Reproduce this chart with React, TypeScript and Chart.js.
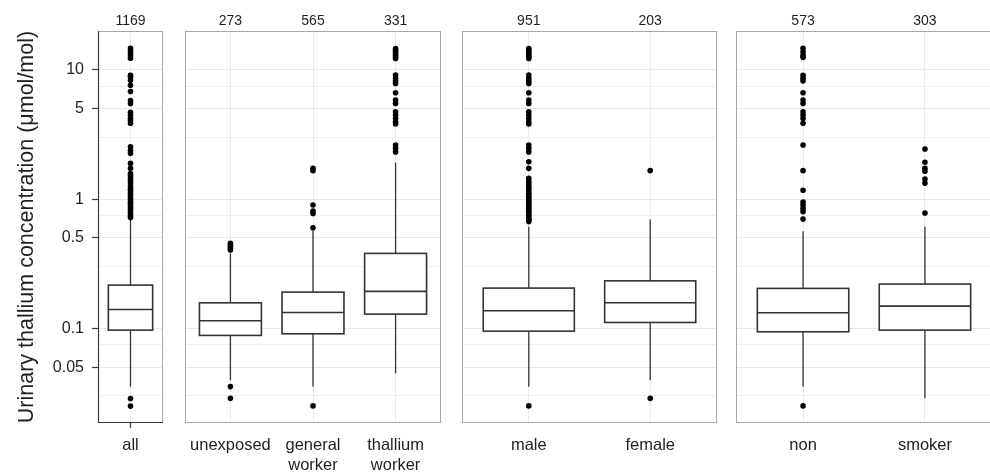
import React, { useEffect, useRef } from "react";
import { Chart, registerables } from "chart.js";

Chart.register(...registerables);

// ---------- data ----------
const categories = ["all", "unexposed", "general\nworker", "thallium\nworker", "male", "female", "non", "smoker"];
const panelOf = [0, 1, 1, 1, 2, 2, 3, 3];
const counts = [1169, 273, 565, 331, 951, 203, 573, 303];
const whiskerLow = [0.0353, 0.0397, 0.0353, 0.0448, 0.0353, 0.0397, 0.0353, 0.0287];
const q1 = [0.0968, 0.0881, 0.0907, 0.1288, 0.0951, 0.111, 0.094, 0.0968];
const median = [0.14, 0.1143, 0.1327, 0.193, 0.1367, 0.1575, 0.1318, 0.1486];
const q3 = [0.216, 0.1575, 0.1906, 0.38, 0.2048, 0.233, 0.2037, 0.22];
const whiskerHigh = [0.71, 0.38, 0.57, 1.92, 0.61, 0.696, 0.565, 0.61];

const outliersAll = [0.025, 0.0286, 0.72, 0.74, 0.77, 0.8, 0.83, 0.86, 0.9, 0.93, 0.96, 1.0, 1.04, 1.08, 1.12, 1.17, 1.21, 1.27, 1.33, 1.39, 1.45, 1.52, 1.58, 1.73, 1.89, 2.26, 2.39, 2.54, 3.86, 4.05, 4.2, 4.45, 4.7, 5.5, 5.8, 6.8, 7.6, 8.3, 8.8, 9.1, 12.3, 12.8, 13.4, 14.0, 14.7];
const outliersUnexposed = [0.0287, 0.0354, 0.403, 0.415, 0.427, 0.44, 0.454];
const outliersGeneral = [0.0251, 0.6, 0.775, 0.81, 0.9, 1.66, 1.73];
const outliersThallium = [2.32, 2.47, 2.62, 3.81, 3.96, 4.21, 4.47, 4.74, 5.5, 5.84, 6.65, 7.86, 8.2, 8.59, 9.12, 12.27, 12.6, 13.0, 13.4, 13.8, 14.2, 14.66];
const outliersMale = [0.0251, 0.67, 0.688, 0.7, 0.73, 0.75, 0.775, 0.8, 0.822, 0.85, 0.872, 0.9, 0.926, 0.95, 0.98, 1.01, 1.04, 1.08, 1.11, 1.16, 1.21, 1.26, 1.32, 1.38, 1.45, 1.73, 1.945, 2.32, 2.47, 2.62, 3.81, 3.96, 4.21, 4.47, 4.74, 5.5, 5.84, 6.65, 7.86, 8.2, 8.59, 9.12, 12.27, 12.6, 13.0, 13.4, 13.8, 14.2, 14.66];
const outliersFemale = [0.0287, 1.66];
const outliersNon = [0.0251, 0.7, 0.8, 0.85, 0.9, 0.95, 1.17, 1.66, 2.62, 3.86, 4.21, 4.47, 4.74, 5.5, 5.84, 6.65, 8.2, 8.6, 9.1, 12.5, 13.0, 13.8, 14.7];
const outliersSmoker = [0.78, 1.33, 1.43, 1.64, 1.73, 1.93, 2.44];
const outliers = [outliersAll, outliersUnexposed, outliersGeneral, outliersThallium, outliersMale, outliersFemale, outliersNon, outliersSmoker];

const yMajorTicks = [0.05, 0.1, 0.5, 1, 5, 10];
const yMinorTicks = [0.03, 0.075, 0.3, 0.75, 3, 7.5];
const yMin = 0.0185;
const yMax = 20.0;
const yTitle = "Urinary thallium concentration (\u03BCmol/mol)";

// ---------- styling / layout ----------
const FONT = "'Liberation Sans', Arial, Helvetica, sans-serif";
const TEXT = "#1f1f1f";
const BOX_LINE = "#333333";
const GRID = "#EBEBEB";
const PANEL_BORDER = "#A8A8A8";
const AXIS_DARK = "#3a3a3a";
const BOX_WIDTH = 0.75;
const X_EXPAND = 0.55;
const HEIGHT = 474;
const TOP_H = 31;
const BOTTOM_H = 51;

const panelRects = [
  { left: 98, right: 163, showY: true },
  { left: 185, right: 441, showY: false },
  { left: 462, right: 717, showY: false },
  { left: 736, right: 992, showY: false },
];

function PanelChart({ index, left, right, showY }: { index: number; left: number; right: number; showY: boolean }) {
  const ref = useRef<HTMLCanvasElement>(null);
  const padL = showY ? 0 : 10;
  const padR = 8;
  const canvasLeft = showY ? 0 : left - padL;
  const width = right - canvasLeft + padR;

  useEffect(() => {
    const idx = categories.map((_, g) => g).filter((g) => panelOf[g] === index);
    const n = idx.length;
    const yTicks = [...yMajorTicks, ...yMinorTicks].sort((a, b) => a - b);
    const isMajor = (v: number) => yMajorTicks.some((m) => Math.abs(m - v) < 1e-9);
    const setXTicks = (s: any) => {
      s.ticks = idx.map((_, i) => ({ value: i }));
    };

    const boxPlugin = {
      id: "boxes",
      beforeDatasetsDraw(chart: any) {
        const ctx = chart.ctx;
        const xs = chart.scales.x;
        const ys = chart.scales.y;
        ctx.save();
        idx.forEach((g, i) => {
          const cx = xs.getPixelForValue(i);
          const hw = xs.getPixelForValue(i + BOX_WIDTH / 2) - cx;
          const yLo = ys.getPixelForValue(whiskerLow[g]);
          const yQ1 = ys.getPixelForValue(q1[g]);
          const yMed = ys.getPixelForValue(median[g]);
          const yQ3 = ys.getPixelForValue(q3[g]);
          const yHi = ys.getPixelForValue(whiskerHigh[g]);
          ctx.strokeStyle = BOX_LINE;
          ctx.lineWidth = 1.3;
          ctx.beginPath();
          ctx.moveTo(cx, yQ3);
          ctx.lineTo(cx, yHi);
          ctx.moveTo(cx, yQ1);
          ctx.lineTo(cx, yLo);
          ctx.stroke();
          ctx.fillStyle = "#ffffff";
          ctx.fillRect(cx - hw, yQ3, 2 * hw, yQ1 - yQ3);
          ctx.lineWidth = 1.6;
          ctx.strokeRect(cx - hw, yQ3, 2 * hw, yQ1 - yQ3);
          ctx.beginPath();
          ctx.moveTo(cx - hw, yMed);
          ctx.lineTo(cx + hw, yMed);
          ctx.stroke();
        });
        ctx.restore();
      },
      afterDraw(chart: any) {
        const ctx = chart.ctx;
        const { left: l, top: t, right: r, bottom: b } = chart.chartArea;
        ctx.save();
        ctx.strokeStyle = PANEL_BORDER;
        ctx.lineWidth = 1;
        ctx.strokeRect(l + 0.5, t + 0.5, r - l - 1, b - t - 1);
        if (showY) {
          ctx.strokeStyle = AXIS_DARK;
          ctx.lineWidth = 1.2;
          ctx.beginPath();
          ctx.moveTo(l + 0.5, t);
          ctx.lineTo(l + 0.5, b - 0.5);
          ctx.lineTo(r, b - 0.5);
          ctx.stroke();
        }
        ctx.restore();
      },
    };

    const datasets = [
      {
        type: "scatter" as const,
        label: "outliers",
        data: idx.flatMap((g, i) => outliers[g].map((v) => ({ x: i, y: v }))),
        pointRadius: 2.8,
        pointHoverRadius: 2.8,
        backgroundColor: "#000000",
        borderWidth: 0,
        xAxisID: "x",
        yAxisID: "y",
      },
    ];

    const chart = new Chart(ref.current as HTMLCanvasElement, {
      type: "scatter",
      data: { datasets },
      plugins: [boxPlugin],
      options: {
        animation: false,
        responsive: false,
        devicePixelRatio: 1,
        layout: { padding: { left: padL, right: padR, top: 0, bottom: 0 } },
        plugins: { legend: { display: false }, tooltip: { enabled: false } },
        scales: {
          x: {
            type: "linear",
            position: "bottom",
            min: -X_EXPAND,
            max: n - 1 + X_EXPAND,
            afterBuildTicks: setXTicks,
            afterFit: (s: any) => {
              s.height = BOTTOM_H;
            },
            border: { display: false },
            grid: {
              color: GRID,
              lineWidth: 1,
              drawTicks: true,
              tickLength: 5,
              tickColor: showY ? AXIS_DARK : "rgba(0,0,0,0)",
              tickWidth: 1.2,
            },
            ticks: {
              autoSkip: false,
              maxRotation: 0,
              padding: 8,
              color: TEXT,
              font: { family: FONT, size: 16.5 },
              callback: (v: any) => {
                const i = Math.round(Number(v));
                const lab = categories[idx[i]];
                if (lab === undefined) return "";
                return lab.includes("\n") ? lab.split("\n") : lab;
              },
            },
          },
          xTop: {
            type: "linear",
            axis: "x",
            position: "top",
            min: -X_EXPAND,
            max: n - 1 + X_EXPAND,
            afterBuildTicks: setXTicks,
            afterFit: (s: any) => {
              s.height = TOP_H;
            },
            border: { display: false },
            grid: { display: false, drawTicks: false },
            ticks: {
              autoSkip: false,
              maxRotation: 0,
              padding: 1,
              color: TEXT,
              font: { family: FONT, size: 14 },
              callback: (v: any) => {
                const i = Math.round(Number(v));
                const c = counts[idx[i]];
                return c === undefined ? "" : String(c);
              },
            },
          },
          y: {
            type: "logarithmic",
            position: "left",
            min: yMin,
            max: yMax,
            afterBuildTicks: (s: any) => {
              s.ticks = yTicks.map((v) => ({ value: v, major: isMajor(v) }));
            },
            afterFit: (s: any) => {
              s.width = showY ? left : 0;
            },
            border: { display: false },
            grid: {
              color: (c: any) => (c.tick && isMajor(c.tick.value) ? "#E8E8E8" : "#EFEFEF"),
              lineWidth: 1,
              drawTicks: showY,
              tickLength: 6,
              tickWidth: 1.2,
              tickColor: (c: any) => (c.tick && isMajor(c.tick.value) ? AXIS_DARK : "rgba(0,0,0,0)"),
            },
            ticks: {
              display: showY,
              autoSkip: false,
              padding: 8,
              color: TEXT,
              font: { family: FONT, size: 16 },
              callback: (v: any) => (isMajor(Number(v)) ? String(Number(v)) : ""),
            },
            title: {
              display: showY,
              text: yTitle,
              color: TEXT,
              font: { family: FONT, size: 21.5 },
              padding: { top: 14, bottom: 0 },
            },
          },
        },
      } as any,
    });
    return () => chart.destroy();
  }, []);

  return (
    <canvas
      ref={ref}
      width={width}
      height={HEIGHT}
      style={{ position: "absolute", left: canvasLeft, top: 0, width, height: HEIGHT }}
    />
  );
}

export default function App() {
  return (
    <div
      style={{
        position: "absolute",
        left: 0,
        top: 0,
        width: 990,
        height: HEIGHT,
        overflow: "hidden",
        background: "#ffffff",
      }}
    >
      {panelRects.map((p, i) => (
        <PanelChart key={i} index={i} left={p.left} right={p.right} showY={p.showY} />
      ))}
    </div>
  );
}
